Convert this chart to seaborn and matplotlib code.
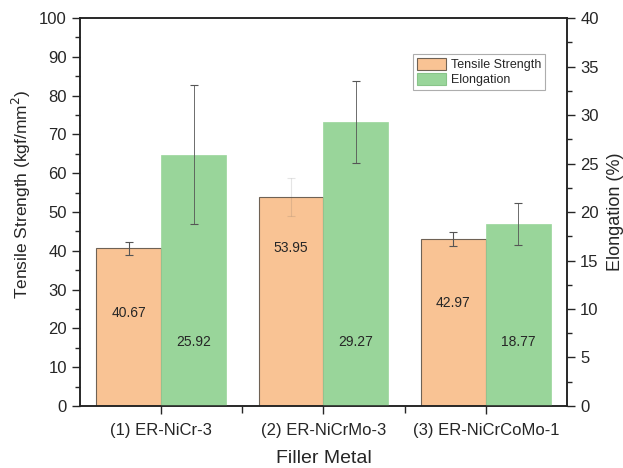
import numpy as np
import pandas as pd
import matplotlib
matplotlib.use('Agg')
import matplotlib.pyplot as plt
from matplotlib.patches import Patch
from matplotlib.ticker import MultipleLocator, FixedLocator
import seaborn as sns

# data
metals = ['(1) ER-NiCr-3', '(2) ER-NiCrMo-3', '(3) ER-NiCrCoMo-1']
tensile = [40.67, 53.95, 42.97]
tensile_err = [1.7, 4.9, 1.8]
elongation = [25.92, 29.27, 18.77]
elongation_err = [7.2, 4.2, 2.15]

# where the value labels sit (data units on each axis)
tensile_label_y = [24.0, 40.7, 26.5]
elong_label_y = [6.6, 6.6, 6.6]

orange = '#F9C394'
green = '#99D59A'

sns.set_style('ticks')
plt.rcParams['font.family'] = ['Liberation Sans', 'DejaVu Sans']

fig = plt.figure(figsize=(6.23, 4.68), dpi=100)
ax = fig.add_axes([0.1284, 0.1325, 0.7817, 0.829])
ax2 = ax.twinx()

pos = np.arange(1, len(metals) + 1)
df_t = pd.DataFrame({'x': pos - 0.2, 'val': tensile})
df_e = pd.DataFrame({'x': pos + 0.2, 'val': elongation})

sns.barplot(data=df_t, x='x', y='val', native_scale=True, width=0.4,
            color=orange, edgecolor='#6f6255', linewidth=0.8, saturation=1, ax=ax)
sns.barplot(data=df_e, x='x', y='val', native_scale=True, width=0.4,
            color=green, edgecolor=green, linewidth=0.5, saturation=1, ax=ax2)

# error bars (the middle tensile one is barely visible in the original)
for i in range(len(metals)):
    a = 0.15 if i == 1 else 1.0
    ax.errorbar(pos[i] - 0.2, tensile[i], yerr=tensile_err[i], fmt='none',
                ecolor='#555555', elinewidth=0.8, capsize=2.6, capthick=0.8, alpha=a, zorder=5)
    ax2.errorbar(pos[i] + 0.2, elongation[i], yerr=elongation_err[i], fmt='none',
                 ecolor='#555555', elinewidth=0.6, capsize=2.6, capthick=0.8, zorder=5)
    ax.text(pos[i] - 0.2, tensile_label_y[i], f'{tensile[i]:.2f}', ha='center', va='center', fontsize=10)
    ax2.text(pos[i] + 0.2, elong_label_y[i], f'{elongation[i]:.2f}', ha='center', va='center', fontsize=10)

ax.set_xlim(0.5, 3.5)
ax.set_ylim(0, 100)
ax2.set_ylim(0, 40)

ax.xaxis.set_major_locator(FixedLocator(pos))
ax.xaxis.set_minor_locator(FixedLocator([1.5, 2.5]))
ax.set_xticklabels(metals)
ax.yaxis.set_major_locator(MultipleLocator(10))
ax.yaxis.set_minor_locator(MultipleLocator(5))
ax2.yaxis.set_major_locator(MultipleLocator(5))
ax2.yaxis.set_minor_locator(MultipleLocator(2.5))

ax.tick_params(axis='both', which='major', direction='out', length=6, width=1, labelsize=12)
ax.tick_params(axis='x', which='major', pad=6)
ax.tick_params(axis='both', which='minor', direction='out', length=3.5, width=1)
ax.tick_params(axis='x', which='minor', length=5)
ax2.tick_params(axis='y', which='major', direction='out', length=6, width=1, labelsize=12)
ax2.tick_params(axis='y', which='minor', direction='out', length=3.5, width=1)
# mirrored ticks on the top spine point inward
ax2.tick_params(axis='x', which='both', top=True, bottom=False, labeltop=False,
                labelbottom=False, direction='in', length=5, width=1)

for a in (ax, ax2):
    for s in a.spines.values():
        s.set_visible(True)
        s.set_linewidth(1.1)
        s.set_color('#222222')

ax.set_xlabel('Filler Metal', fontsize=14, labelpad=9)
ax.set_ylabel('Tensile Strength (kgf/mm$^2$)', fontsize=12.5)
ax.yaxis.set_label_coords(-0.096, 0.546)
ax2.set_ylabel('Elongation (%)', fontsize=13, labelpad=6)

handles = [Patch(facecolor=orange, edgecolor='#6f6255', linewidth=0.8, label='Tensile Strength'),
           Patch(facecolor=green, edgecolor='#88c489', linewidth=0.8, label='Elongation')]
leg = ax.legend(handles=handles, loc='upper left', bbox_to_anchor=(0.684, 0.907),
                borderaxespad=0, fontsize=9, frameon=True, fancybox=False,
                edgecolor='#999999', handlelength=2.3, handleheight=1.1,
                handletextpad=0.4, borderpad=0.3, labelspacing=0.15)
leg.get_frame().set_linewidth(0.8)
leg.set_zorder(10)

fig.savefig('out.png', dpi=100)
